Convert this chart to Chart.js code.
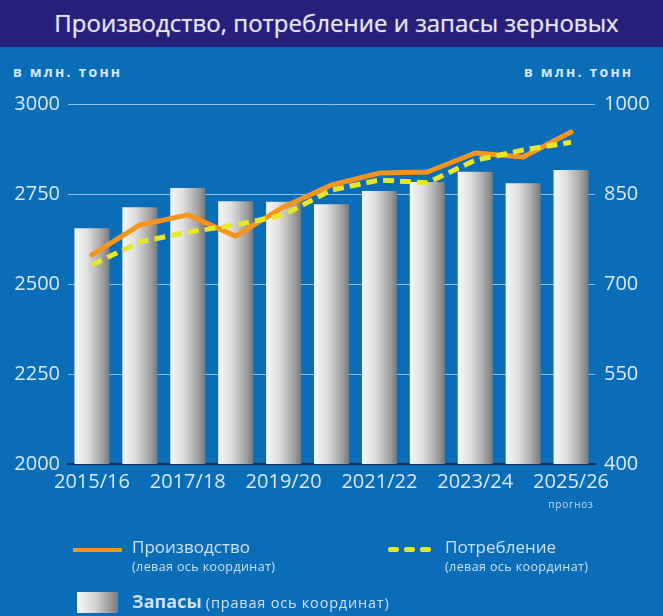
<!DOCTYPE html>
<html>
<head>
<meta charset="utf-8">
<script src="https://cdn.jsdelivr.net/npm/chart.js@4.4.1/dist/chart.umd.min.js"></script>
<style>
  html, body { margin: 0; padding: 0; }
  body { width: 663px; height: 616px; background: #0a6db8; position: relative; overflow: hidden; font-family: "Open Sans", sans-serif; }
  #band { position: absolute; left: 0; top: 0; width: 663px; height: 47px; background: #27207a; }
  #title { position: absolute; left: 0; top: 0; width: 673px; height: 47px; line-height: 45px; text-align: center; color: #e4e4ee; font-size: 24px; text-shadow: 0 0 1px #9a9ac8; }
  .unit { position: absolute; top: 62px; color: #dbe8f5; font-size: 14px; font-weight: 700; letter-spacing: 2.2px; }
  canvas { position: absolute; left: 0; top: 0; }
  .lg { position: absolute; color: #cfe0f2; white-space: nowrap; }
  .big { font-size: 17px; }
  .small { font-size: 12.5px; letter-spacing: 0.4px; }
</style>
</head>
<body>
<div id="band"></div>
<div id="title">Производство, потребление и запасы зерновых</div>
<div class="unit" style="left:13px">в млн. тонн</div>
<div class="unit" style="left:524px">в млн. тонн</div>
<canvas id="c" width="663" height="616"></canvas>

<div class="lg" style="left:73px;top:548px;width:49px;height:4px;background:#f7941d"></div>
<div class="lg big" style="left:132px;top:535px">Производство</div>
<div class="lg small" style="left:132px;top:558px">(левая ось координат)</div>

<div class="lg" style="left:388px;top:547px;width:11px;height:5px;border-radius:2px;background:#e6e62a"></div>
<div class="lg" style="left:404px;top:547px;width:11px;height:5px;border-radius:2px;background:#e6e62a"></div>
<div class="lg" style="left:420px;top:547px;width:11px;height:5px;border-radius:2px;background:#e6e62a"></div>
<div class="lg big" style="left:445px;top:535px">Потребление</div>
<div class="lg small" style="left:445px;top:558px">(левая ось координат)</div>

<div class="lg" style="left:77px;top:592px;width:41px;height:21px;background:linear-gradient(to right,#fafafa,#d4d4d4 45%,#7a7a7a)"></div>
<div class="lg" style="left:132px;top:589px"><span style="font-size:18px;font-weight:700">Запасы</span> <span style="font-size:14.5px;letter-spacing:0.8px">(правая ось координат)</span></div>

<script>
const categories = ['2015/16','2016/17','2017/18','2018/19','2019/20','2020/21','2021/22','2022/23','2023/24','2024/25','2025/26'];
const production = [2581, 2664, 2692, 2633, 2714, 2775, 2808, 2811, 2864, 2853, 2922];
const consumption = [2553, 2617, 2644, 2664, 2692, 2761, 2789, 2781, 2844, 2872, 2894];
const stocks = [793, 828, 860, 838, 837, 833, 855, 870, 887, 868, 890];
const leftTicks = [2000, 2250, 2500, 2750, 3000];
const rightTicks = [400, 550, 700, 850, 1000];
const forecastNote = 'прогноз';

const BAR_PCT = 0.73;

function barGradient(context) {
  const chart = context.chart;
  if (context.type !== 'data' || !chart.chartArea) return '#cccccc';
  const xs = chart.scales.x;
  const x = xs.getPixelForValue(context.dataIndex);
  const w = (chart.chartArea.width / categories.length) * BAR_PCT / 2;
  const g = chart.ctx.createLinearGradient(x - w, 0, x + w, 0);
  g.addColorStop(0, '#f7f7f7');
  g.addColorStop(0.35, '#e0e0e0');
  g.addColorStop(0.75, '#a8a8a8');
  g.addColorStop(1, '#7a7a7a');
  return g;
}

const notePlugin = {
  id: 'note',
  afterDraw(chart) {
    const c = chart.ctx;
    const x = chart.scales.x.getPixelForValue(categories.length - 1);
    c.save();
    c.font = '10px "Open Sans"';
    c.letterSpacing = '0.8px';
    c.fillStyle = '#c8dcef';
    c.textAlign = 'center';
    c.textBaseline = 'middle';
    c.fillText(forecastNote, x, 505);
    c.restore();
  }
};

const tickColor = '#dde9f5';

new Chart(document.getElementById('c'), {
  data: {
    labels: categories,
    datasets: [
      {
        type: 'line', label: 'Потребление', data: consumption, yAxisID: 'y',
        borderColor: '#e6e62a', borderWidth: 5, borderDash: [11, 6], pointRadius: 0,
        tension: 0, order: 1, fill: false
      },
      {
        type: 'line', label: 'Производство', data: production, yAxisID: 'y',
        borderColor: '#f7941d', borderWidth: 5, pointRadius: 0, tension: 0, order: 2, fill: false,
        borderCapStyle: 'round', borderJoinStyle: 'round'
      },
      {
        type: 'bar', label: 'Запасы', data: stocks, yAxisID: 'y1',
        backgroundColor: barGradient, borderWidth: 0,
        categoryPercentage: 1, barPercentage: BAR_PCT, order: 3
      }
    ]
  },
  options: {
    responsive: false,
    animation: false,
    devicePixelRatio: 1,
    layout: { padding: { left: 0, right: 0, top: 104, bottom: 92 } },
    plugins: { legend: { display: false }, tooltip: { enabled: false }, title: { display: false } },
    scales: {
      x: {
        type: 'category',
        grid: { display: false, drawTicks: false },
        border: { display: true, color: '#1b2556', width: 2 },
        ticks: {
          color: tickColor, autoSkip: false, maxRotation: 0, padding: 6,
          font: { family: 'Open Sans', size: 20, weight: 500 },
          callback: (v, i) => (i % 2 === 0 ? categories[i] : '')
        },
        afterFit: s => { s.height = 60; }
      },
      y: {
        type: 'linear', position: 'left', min: leftTicks[0], max: leftTicks[leftTicks.length - 1],
        afterBuildTicks: s => { s.ticks = leftTicks.map(v => ({ value: v })); },
        grid: { color: '#8fc2ea', lineWidth: 1, drawTicks: false },
        border: { display: false },
        ticks: { color: tickColor, padding: 8, font: { family: 'Open Sans', size: 20 }, callback: v => String(v) },
        afterFit: s => { s.width = 68; }
      },
      y1: {
        type: 'linear', position: 'right', min: rightTicks[0], max: rightTicks[rightTicks.length - 1],
        afterBuildTicks: s => { s.ticks = rightTicks.map(v => ({ value: v })); },
        grid: { display: false, drawTicks: false },
        border: { display: false },
        ticks: { color: tickColor, padding: 9, font: { family: 'Open Sans', size: 20 }, callback: v => String(v) },
        afterFit: s => { s.width = 68; }
      }
    }
  },
  plugins: [notePlugin]
});
</script>
</body>
</html>
